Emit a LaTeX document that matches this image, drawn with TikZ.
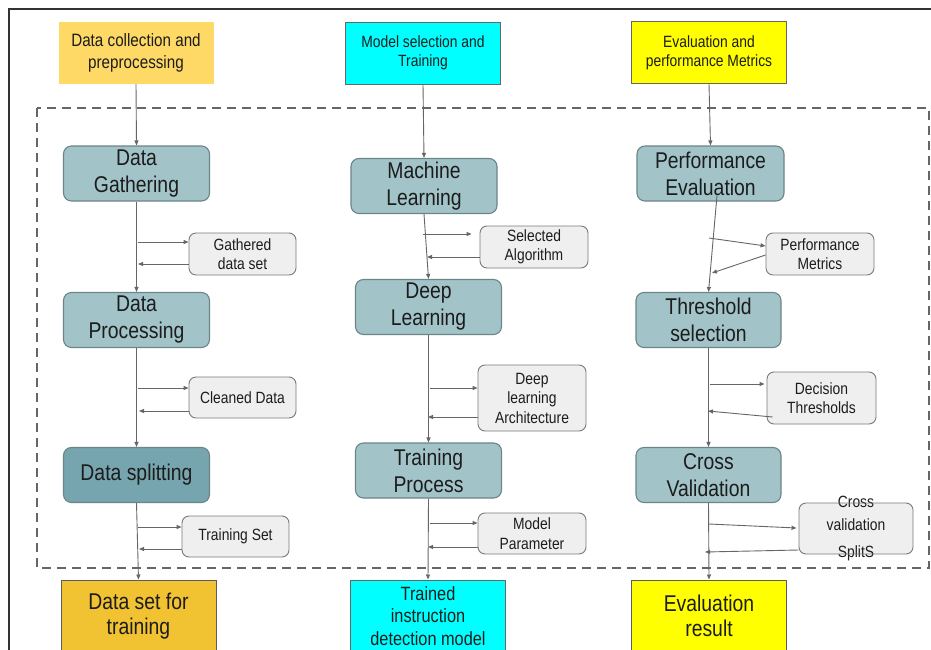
\documentclass[tikz,border=0pt]{standalone}
\usepackage{fontspec}
\setmainfont[FakeStretch=0.85]{Liberation Sans}
\usetikzlibrary{arrows.meta}
\definecolor{lineg}{HTML}{666666}
\definecolor{txt}{HTML}{1C1C1C}
\definecolor{tealbox}{HTML}{A2C4C9}
\definecolor{tealdark}{HTML}{76A5AF}
\definecolor{tealedge}{HTML}{6B8588}
\definecolor{smallfill}{HTML}{EFEFEF}
\definecolor{smalledge}{HTML}{7A7A7A}
\definecolor{lightorange}{HTML}{FFD966}
\definecolor{darkorange}{HTML}{F1C232}
\definecolor{cyanbox}{HTML}{00FFFF}
\definecolor{yellowbox}{HTML}{FFFF00}
\definecolor{frame}{HTML}{333333}
\definecolor{dashc}{HTML}{666666}
\tikzset{
  bigbox/.style={rounded corners=8pt, fill=tealbox, draw=tealedge, line width=1.1pt,
    minimum width=146pt, minimum height=55pt, inner sep=0pt, align=center,
    font=\fontsize{22.8}{27}\selectfont, text=txt},
  smallbox/.style={rounded corners=7pt, fill=smallfill, draw=smalledge, line width=0.9pt,
    minimum width=108pt, minimum height=42pt, inner sep=0pt, align=center,
    font=\fontsize{16.3}{19.5}\selectfont, text=txt},
  topbox/.style={minimum width=155pt, minimum height=62pt, inner sep=0pt, align=center,
    text=txt},
  endbox/.style={minimum width=155pt, minimum height=72pt, inner sep=0pt, align=center,
    draw=frame!80, line width=1pt, text=txt, font=\fontsize{22.8}{24.5}\selectfont},
  arr/.style={draw=lineg, line width=0.9pt, -{Triangle[length=5pt,width=4pt]}},
}
\begin{document}
\begin{tikzpicture}[x=1pt,y=-1pt]
\useasboundingbox (0,0) rectangle (931,650);
\clip (0,0) rectangle (931,650);
\fill[white] (0,0) rectangle (931,650);
% outer frame
\draw[frame, line width=2.5pt] (9,700) -- (9,9) -- (960,9);
% dashed region
\draw[dashc, line width=2pt, dash pattern=on 9pt off 6pt] (37,108) rectangle (929,568);

% column 1
\node[topbox, fill=lightorange, font=\fontsize{17.9}{22}\selectfont] (t1) at (136,53) {Data collection and\\preprocessing};
\node[bigbox] (dg) at (136.5,173.5) {Data\\Gathering};
\node[smallbox, minimum width=107pt] (gds) at (242.5,254) {Gathered\\data set};
\node[bigbox] (dp) at (136.5,320) {Data\\Processing};
\node[smallbox, minimum width=107pt, minimum height=41pt] (cd) at (242.5,397.5) {Cleaned Data};
\node[bigbox, fill=tealdark] (ds) at (136.5,475) {Data splitting};
\node[smallbox, minimum width=107pt, minimum height=41pt] (ts) at (235.5,536.5) {Training Set};
\node[endbox, fill=darkorange] (b1) at (138.5,616) {Data set for\\training};

% column 2
\node[topbox, fill=cyanbox, draw=lineg, line width=0.8pt, font=\fontsize{16.3}{19.5}\selectfont] (t2) at (423,53) {Model selection and\\Training};
\node[bigbox] (ml) at (424,186) {Machine\\Learning};
\node[smallbox] (sa) at (534,247) {Selected\\Algorithm};
\node[bigbox] (dl) at (428.5,307) {Deep\\Learning};
\node[smallbox, minimum height=66pt] (dla) at (532,398) {Deep\\learning\\Architecture};
\node[bigbox] (tp) at (428.5,470.5) {Training\\Process};
\node[smallbox, minimum height=41pt] (mp) at (532,533.5) {Model\\Parameter};
\node[endbox, fill=cyanbox, draw=lineg, font=\fontsize{19.2}{22.5}\selectfont] (b2) at (428,616) {Trained\\instruction\\detection model};

% column 3
\node[topbox, fill=yellowbox, draw=lineg, line width=0.8pt, font=\fontsize{16.3}{19}\selectfont] (t3) at (709,52.5) {Evaluation and\\performance Metrics};
\node[bigbox, minimum width=147pt] (pe) at (710.5,173.5) {Performance\\Evaluation};
\node[smallbox] (pm) at (820,254) {Performance\\Metrics};
\node[bigbox, minimum width=145pt] (tsel) at (708.5,320) {Threshold\\selection};
\node[smallbox, minimum width=109pt, minimum height=52pt] (dt) at (821.5,398) {Decision\\Thresholds};
\node[bigbox, minimum width=145pt] (cv) at (708.5,475) {Cross\\Validation};
\node[smallbox, draw=none, minimum width=114pt, minimum height=51pt] (cvs) at (856,528.5) {};
\node[inner sep=0pt, align=center, text=txt, font=\fontsize{16.3}{23}\selectfont] (cvst) at (856,528) {Cross\\validation\\[4pt]SplitS};
\node[smallbox, fill=none, minimum width=114pt, minimum height=51pt] (cvsb) at (856,528.5) {};
\node[endbox, fill=yellowbox] (b3) at (709,616) {Evaluation\\result};

% main flow column 1
\draw[arr] (t1.south) -- (dg.north);
\draw[arr] (dg.south) -- (dp.north);
\draw[arr] (dp.south) -- (ds.north);
\draw[arr] (ds.south) -- (b1.north);
\draw[arr] (138,242) -- ([yshift=12pt]gds.west);
\draw[arr] ([yshift=-10pt]gds.west) -- (138,264);
\draw[arr] (138,388) -- ([yshift=9.5pt]cd.west);
\draw[arr] ([yshift=-13.5pt]cd.west) -- (139,411);
\draw[arr] (138,527) -- ([yshift=9.5pt]ts.west);
\draw[arr] ([yshift=-12.5pt]ts.west) -- (139,549);

% main flow column 2
\draw[arr] (t2.south) -- (ml.north);
\draw[arr] (ml.south) -- (dl.north);
\draw[arr] (dl.south) -- (tp.north);
\draw[arr] (tp.south) -- (b2.north);
\draw[arr] (423,234) -- ([xshift=-8pt,yshift=13pt]sa.west);
\draw[arr] ([yshift=-10pt]sa.west) -- (427,257);
\draw[arr] (430,388) -- ([yshift=10pt]dla.west);
\draw[arr] ([yshift=-19pt]dla.west) -- (428,417);
\draw[arr] (430,523) -- ([yshift=10.5pt]mp.west);
\draw[arr] ([yshift=-13.5pt]mp.west) -- (428,547);

% main flow column 3
\draw[arr] (t3.south) -- (pe.north);
\draw[arr] ([xshift=6.5pt,yshift=6pt]pe.south) -- (tsel.north);
\draw[arr] (tsel.south) -- (cv.north);
\draw[arr] (cv.south) -- (b3.north);
\draw[arr] (709,238) -- ([yshift=8pt]pm.west);
\draw[arr] ([yshift=-1pt]pm.west) -- (712,273);
\draw[arr] (710,384) -- ([xshift=-2pt,yshift=14pt]dt.west);
\draw[arr] ([xshift=6pt,yshift=-19pt]dt.west) -- (708,411);
\draw[arr] (709,524) -- ([xshift=-2pt,yshift=0.5pt]cvsb.west);
\draw[arr] ([yshift=-21.5pt]cvsb.west) -- (705,552);
\end{tikzpicture}
\end{document}
